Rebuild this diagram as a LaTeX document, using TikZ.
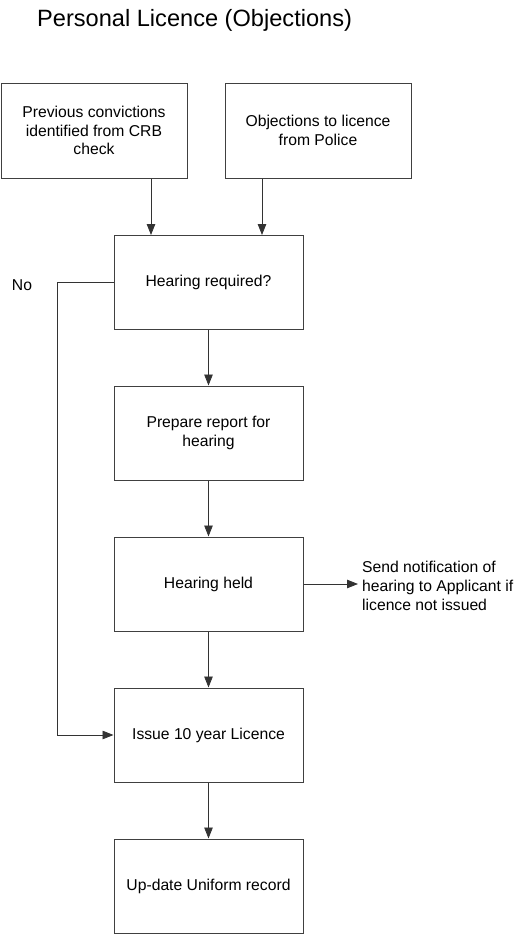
\documentclass[tikz,border=0pt]{standalone}
\usepackage{fontspec}
\setmainfont{Liberation Sans}
\usetikzlibrary{arrows.meta,positioning}
\begin{document}
\begin{tikzpicture}[x=1pt,y=1pt,
  box/.style={draw=black!75,line width=1pt,minimum width=189pt,minimum height=94pt,inner sep=0pt,align=center,font=\fontsize{15.7}{18.7}\selectfont},
  lbl/.style={inner sep=0pt,align=left,font=\fontsize{15.7}{18.7}\selectfont},
  arr/.style={draw=black!80,line width=0.8pt,-{Triangle[length=11pt,width=8.5pt]}}]
\useasboundingbox (0,0) rectangle (529,-935);
\node[inner sep=0pt,anchor=base west,font=\fontsize{23.6}{28}\selectfont] (title) at (37,-26) {Personal Licence (Objections)};
\node[box,minimum width=186pt,minimum height=95pt] (b1) at (94,-130.5) {Previous convictions\\identified from CRB\\check};
\node[box,minimum width=186pt,minimum height=95pt] (b2) at (318,-130.5) {Objections to licence\\from Police};
\node[box] (b3) at (208.5,-282) {Hearing required?};
\node[box] (b4) at (208.5,-433) {Prepare report for\\hearing};
\node[box] (b5) at (208.5,-584) {Hearing held};
\node[box] (b6) at (208.5,-735) {Issue 10 year Licence};
\node[box] (b7) at (208.5,-886) {Up-date Uniform record};
\node[lbl] (no) at (22,-285) {No};
\node[lbl,anchor=west] (notif) at (362,-586) {Send notification of\\hearing to Applicant if\\licence not issued};
\coordinate (in1) at (151,-235);
\coordinate (in2) at (262,-235);
\coordinate (lx) at (57,0);
\draw[arr] (in1 |- b1.south) -- (in1);
\draw[arr] (in2 |- b2.south) -- (in2);
\draw[arr] (b3.south) -- (b4.north);
\draw[arr] (b4.south) -- (b5.north);
\draw[arr] (b5.south) -- (b6.north);
\draw[arr] (b6.south) -- (b7.north);
\draw[arr] (b3.west) -- (b3.west -| lx) -- (b6.west -| lx) -- (b6.west);
\draw[arr] (b5.east) -- ([xshift=-4pt]notif.west |- b5.east);
\end{tikzpicture}
\end{document}
